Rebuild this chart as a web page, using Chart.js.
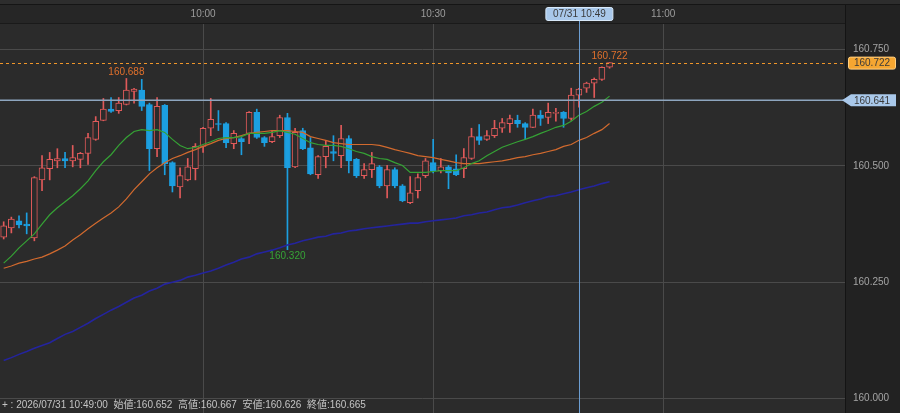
<!DOCTYPE html>
<html>
<head>
<meta charset="utf-8">
<script src="https://cdn.jsdelivr.net/npm/chart.js@4.4.1/dist/chart.umd.min.js"></script>
<style>
  html, body { margin: 0; padding: 0; background: #222222; }
  #wrap { width: 900px; height: 413px; position: relative; }
</style>
</head>
<body>
<div id="wrap"><canvas id="chart"></canvas></div>
<script>
// 1 minute candles, index 0 = 09:34, index 26 = 10:00
const opens = [160.347,160.367,160.382,160.375,160.345,160.470,160.494,160.511,160.516,160.511,
  160.514,160.527,160.557,160.598,160.622,160.619,160.632,160.660,160.663,160.632,
  160.537,160.630,160.507,160.455,160.470,160.494,160.542,160.581,160.591,160.591,
  160.548,160.559,160.570,160.615,160.561,160.552,160.565,160.604,160.498,160.576,
  160.539,160.481,160.520,160.531,160.522,160.559,160.514,160.479,160.492,160.498,
  160.457,160.492,160.457,160.421,160.447,160.479,160.507,160.490,160.498,160.494,
  160.494,160.516,160.563,160.557,160.565,160.581,160.591,160.598,160.591,160.583,
  160.609,160.604,160.613,160.615,160.602,160.652,160.667,160.678,160.686,160.712];
const highs = [160.380,160.390,160.393,160.399,160.477,160.522,160.529,160.537,160.529,160.544,
  160.529,160.570,160.606,160.645,160.647,160.647,160.688,160.667,160.686,160.635,
  160.647,160.632,160.509,160.496,160.516,160.548,160.583,160.645,160.619,160.593,
  160.576,160.561,160.617,160.622,160.563,160.576,160.609,160.613,160.581,160.581,
  160.561,160.522,160.555,160.565,160.587,160.565,160.516,160.505,160.529,160.501,
  160.501,160.496,160.460,160.477,160.483,160.516,160.557,160.516,160.501,160.524,
  160.537,160.581,160.589,160.576,160.598,160.602,160.609,160.609,160.593,160.622,
  160.619,160.635,160.624,160.617,160.667,160.667,160.680,160.689,160.713,160.722];
const lows = [160.343,160.356,160.367,160.354,160.339,160.447,160.470,160.496,160.496,160.498,
  160.496,160.503,160.555,160.597,160.615,160.613,160.631,160.635,160.619,160.490,
  160.520,160.481,160.444,160.431,160.468,160.470,160.529,160.565,160.576,160.539,
  160.537,160.524,160.548,160.559,160.542,160.550,160.561,160.320,160.496,160.535,
  160.481,160.473,160.496,160.511,160.496,160.485,160.475,160.473,160.475,160.453,
  160.431,160.453,160.423,160.419,160.431,160.475,160.485,160.485,160.451,160.479,
  160.475,160.514,160.546,160.555,160.561,160.572,160.572,160.583,160.557,160.582,
  160.587,160.591,160.596,160.583,160.598,160.626,160.658,160.647,160.684,160.710];
const closes = [160.371,160.386,160.373,160.371,160.475,160.496,160.514,160.516,160.511,160.518,
  160.527,160.561,160.596,160.622,160.617,160.635,160.663,160.665,160.628,160.537,
  160.628,160.505,160.457,160.479,160.498,160.542,160.581,160.600,160.589,160.550,
  160.570,160.552,160.615,160.561,160.550,160.563,160.604,160.496,160.572,160.537,
  160.483,160.520,160.542,160.527,160.559,160.511,160.479,160.492,160.505,160.457,
  160.492,160.457,160.425,160.442,160.475,160.511,160.490,160.498,160.485,160.481,
  160.518,160.563,160.555,160.565,160.581,160.593,160.602,160.591,160.583,160.609,
  160.602,160.615,160.615,160.602,160.652,160.665,160.678,160.686,160.712,160.722];

// moving averages (short / middle / long)
const maShort = [160.291,160.306,160.324,160.339,160.354,160.375,160.395,160.410,160.423,160.436,
  160.451,160.468,160.490,160.509,160.524,160.544,160.561,160.574,160.578,160.576,
  160.578,160.572,160.557,160.544,160.537,160.540,160.546,160.552,160.559,160.561,
  160.561,160.563,160.570,160.570,160.570,160.572,160.576,160.572,160.568,160.559,
  160.550,160.546,160.544,160.544,160.542,160.537,160.531,160.527,160.520,160.516,
  160.514,160.507,160.501,160.486,160.486,160.486,160.488,160.490,160.490,160.490,
  160.496,160.505,160.511,160.522,160.531,160.540,160.546,160.552,160.557,160.563,
  160.570,160.576,160.583,160.587,160.596,160.609,160.617,160.628,160.637,160.650];
const maMid = [160.280,160.285,160.291,160.295,160.300,160.304,160.311,160.319,160.328,160.341,
  160.352,160.365,160.377,160.388,160.399,160.412,160.429,160.449,160.466,160.483,
  160.496,160.507,160.516,160.522,160.529,160.535,160.542,160.548,160.555,160.559,
  160.561,160.565,160.570,160.572,160.574,160.576,160.576,160.576,160.574,160.572,
  160.563,160.559,160.555,160.550,160.548,160.546,160.546,160.546,160.546,160.544,
  160.540,160.535,160.531,160.527,160.522,160.520,160.518,160.514,160.511,160.507,
  160.505,160.505,160.505,160.507,160.509,160.511,160.514,160.518,160.520,160.524,
  160.527,160.531,160.535,160.542,160.546,160.555,160.561,160.570,160.578,160.591];
const maLong = [160.082,160.088,160.095,160.101,160.108,160.114,160.120,160.129,160.138,160.144,
  160.153,160.162,160.172,160.181,160.190,160.198,160.207,160.216,160.222,160.231,
  160.237,160.246,160.250,160.254,160.261,160.265,160.270,160.274,160.280,160.287,
  160.293,160.300,160.304,160.311,160.315,160.319,160.324,160.330,160.334,160.339,
  160.343,160.347,160.349,160.354,160.356,160.360,160.362,160.365,160.367,160.369,
  160.371,160.373,160.375,160.377,160.377,160.380,160.382,160.384,160.386,160.388,
  160.393,160.395,160.399,160.401,160.406,160.410,160.412,160.416,160.421,160.425,
  160.429,160.434,160.436,160.440,160.444,160.449,160.453,160.457,160.462,160.466];

// axis ticks
const xTickValues = [26, 56, 86];
const xTickLabels = ['10:00', '10:30', '11:00'];
const yTickValues = [160.000, 160.250, 160.500, 160.750];

// high / low markers
const markerIndex = [16, 37, 79];
const markerKind = ['high', 'low', 'high'];

// cursor + price lines
const cursorIndex = 75;
const cursorLabel = '07/31 10:49';
const cursorDate = '2026/07/31';
const cursorTime = '10:49:00';
const cursorPrice = 160.641;
const lastPrice = 160.722;

const RED = '#e05a5a';
const BLUE = '#1c9fe0';
const PLOT_BG = '#2b2b2b';
const FONT = '"Liberation Sans", "Noto Sans CJK JP", sans-serif';

const isUp = i => closes[i] >= opens[i];
const fmt = v => v.toFixed(3);

const bodies = opens.map((o, i) => ({ x: i, y: [o, closes[i]] }));
const wicks = lows.map((l, i) => ({ x: i, y: [l, highs[i]] }));
const line = arr => arr.map((v, i) => ({ x: i, y: v }));

function roundRect(ctx, x, y, w, h, r) {
  ctx.beginPath();
  ctx.moveTo(x + r, y);
  ctx.lineTo(x + w - r, y);
  ctx.quadraticCurveTo(x + w, y, x + w, y + r);
  ctx.lineTo(x + w, y + h - r);
  ctx.quadraticCurveTo(x + w, y + h, x + w - r, y + h);
  ctx.lineTo(x + r, y + h);
  ctx.quadraticCurveTo(x, y + h, x, y + h - r);
  ctx.lineTo(x, y + r);
  ctx.quadraticCurveTo(x, y, x + r, y);
  ctx.closePath();
}

const overlay = {
  id: 'overlay',
  beforeDraw(chart) {
    const ctx = chart.ctx;
    const a = chart.chartArea;
    ctx.save();
    ctx.fillStyle = '#222222';
    ctx.fillRect(0, 0, chart.width, chart.height);
    // header band
    ctx.fillStyle = '#2d2d2d';
    ctx.fillRect(0, 0, chart.width, 4);
    ctx.fillStyle = '#151515';
    ctx.fillRect(0, 4, chart.width, 1);
    ctx.fillStyle = '#262626';
    ctx.fillRect(0, 5, a.right, a.top - 5);
    ctx.fillStyle = PLOT_BG;
    ctx.fillRect(a.left, a.top, a.right - a.left, chart.height - a.top);
    ctx.fillStyle = '#1a1a1a';
    ctx.fillRect(0, a.top - 1, a.right, 1);
    ctx.fillStyle = '#141414';
    ctx.fillRect(a.right, 5, 1, chart.height);
    ctx.restore();
  },
  afterDatasetsDraw(chart) {
    const ctx = chart.ctx;
    const a = chart.chartArea;
    const xs = chart.scales.x, ys = chart.scales.y;
    ctx.save();
    // last price dashed line
    let y = Math.round(ys.getPixelForValue(lastPrice)) + 0.5;
    ctx.strokeStyle = '#f0962a';
    ctx.lineWidth = 1;
    ctx.setLineDash([3, 3]);
    ctx.beginPath(); ctx.moveTo(a.left, y); ctx.lineTo(a.right, y); ctx.stroke();
    ctx.setLineDash([]);
    // cursor price line
    y = ys.getPixelForValue(cursorPrice);
    ctx.strokeStyle = '#8ea6bf';
    ctx.lineWidth = 1.6;
    ctx.beginPath(); ctx.moveTo(a.left, y); ctx.lineTo(a.right, y); ctx.stroke();
    // cursor time line
    const cx = Math.round(xs.getPixelForValue(cursorIndex)) + 0.5;
    ctx.strokeStyle = '#6c9ed2';
    ctx.lineWidth = 1;
    ctx.beginPath(); ctx.moveTo(cx, 20); ctx.lineTo(cx, chart.height); ctx.stroke();

    // high / low labels
    ctx.font = '10px ' + FONT;
    ctx.textAlign = 'center';
    markerIndex.forEach((idx, k) => {
      const px = xs.getPixelForValue(idx);
      if (markerKind[k] === 'high') {
        ctx.fillStyle = '#e0702c';
        ctx.textBaseline = 'bottom';
        ctx.fillText(fmt(highs[idx]), px, ys.getPixelForValue(highs[idx]) - 1);
      } else {
        ctx.fillStyle = '#36a436';
        ctx.textBaseline = 'top';
        ctx.fillText(fmt(lows[idx]), px, ys.getPixelForValue(lows[idx]) + 2);
      }
    });
    ctx.restore();
  },
  afterDraw(chart) {
    const ctx = chart.ctx;
    const a = chart.chartArea;
    const xs = chart.scales.x, ys = chart.scales.y;
    ctx.save();
    ctx.font = '10px ' + FONT;
    ctx.textBaseline = 'middle';
    ctx.textAlign = 'center';

    // last price tag
    let y = ys.getPixelForValue(lastPrice);
    roundRect(ctx, a.right + 3.5, y - 5.5, 47, 12, 2);
    ctx.fillStyle = '#f5a631';
    ctx.fill();
    ctx.strokeStyle = '#ffcf80';
    ctx.lineWidth = 1;
    ctx.stroke();
    ctx.fillStyle = '#3a3a3a';
    ctx.fillText(fmt(lastPrice), a.right + 27, y + 0.5);

    // cursor price tag (arrow)
    y = ys.getPixelForValue(cursorPrice);
    ctx.beginPath();
    ctx.moveTo(a.right - 3, y);
    ctx.lineTo(a.right + 6, y - 6);
    ctx.lineTo(a.right + 51, y - 6);
    ctx.lineTo(a.right + 51, y + 6);
    ctx.lineTo(a.right + 6, y + 6);
    ctx.closePath();
    ctx.fillStyle = '#a9c8ea';
    ctx.fill();
    ctx.fillStyle = '#3a3a3a';
    ctx.fillText(fmt(cursorPrice), a.right + 27, y + 0.5);

    // cursor time tag
    const cx = xs.getPixelForValue(cursorIndex);
    roundRect(ctx, cx - 33, 7.5, 67, 13, 2);
    ctx.fillStyle = '#a9c8ea';
    ctx.fill();
    ctx.strokeStyle = '#d8e9f9';
    ctx.stroke();
    ctx.fillStyle = '#3a3a3a';
    ctx.fillText(cursorLabel, cx + 0.5, 14.5);

    // status line
    const c = cursorIndex;
    const status = '+ : ' + cursorDate + ' ' + cursorTime +
      '  始値:' + fmt(opens[c]) + '  高値:' + fmt(highs[c]) +
      '  安値:' + fmt(lows[c]) + '  終値:' + fmt(closes[c]);
    ctx.textAlign = 'left';
    ctx.fillStyle = '#c4c4c4';
    ctx.fillText(status, 2, 405);
    ctx.restore();
  }
};

const ctx = document.getElementById('chart').getContext('2d');
new Chart(ctx, {
  type: 'bar',
  data: {
    datasets: [
      {
        type: 'line', data: line(maShort), borderColor: '#35a235', borderWidth: 1.2,
        pointRadius: 0, tension: 0, order: 0
      },
      {
        type: 'line', data: line(maMid), borderColor: '#d26a2e', borderWidth: 1.2,
        pointRadius: 0, tension: 0, order: 0
      },
      {
        type: 'line', data: line(maLong), borderColor: '#24249e', borderWidth: 1.6,
        pointRadius: 0, tension: 0, order: 0
      },
      {
        // candle bodies: hollow red up, filled blue down
        data: bodies,
        grouped: false,
        barThickness: 6,
        borderWidth: 1,
        borderSkipped: false,
        backgroundColor: c => isUp(c.dataIndex) ? PLOT_BG : BLUE,
        borderColor: c => isUp(c.dataIndex) ? RED : BLUE,
        order: 1
      },
      {
        // wicks
        data: wicks,
        grouped: false,
        barThickness: 1,
        borderWidth: 0,
        backgroundColor: c => isUp(c.dataIndex) ? RED : BLUE,
        order: 2
      }
    ]
  },
  options: {
    responsive: true,
    maintainAspectRatio: false,
    animation: false,
    layout: { padding: 0 },
    plugins: { legend: { display: false }, tooltip: { enabled: false } },
    scales: {
      x: {
        type: 'linear',
        position: 'top',
        offset: false,
        min: -0.48,
        max: 109.7,
        afterBuildTicks: s => { s.ticks = xTickValues.map(v => ({ value: v })); },
        afterFit: s => { s.height = 24; s.paddingLeft = 0; s.paddingRight = 0; },
        ticks: {
          color: '#9c9c9c',
          font: { size: 10, family: FONT },
          padding: 4,
          maxRotation: 0,
          autoSkip: false,
          callback: v => xTickLabels[xTickValues.indexOf(v)]
        },
        grid: { color: '#4a4a4a', drawTicks: false, offset: false },
        border: { display: false }
      },
      y: {
        type: 'linear',
        position: 'right',
        min: 159.969,
        max: 160.805,
        afterBuildTicks: s => { s.ticks = yTickValues.map(v => ({ value: v })); },
        afterFit: s => { s.width = 55; s.paddingTop = 0; s.paddingBottom = 0; },
        ticks: {
          color: '#a4a4a4',
          font: { size: 10, family: FONT },
          padding: 8,
          callback: v => fmt(v)
        },
        grid: { color: '#4a4a4a', drawTicks: false },
        border: { display: false }
      }
    }
  },
  plugins: [overlay]
});
</script>
</body>
</html>
